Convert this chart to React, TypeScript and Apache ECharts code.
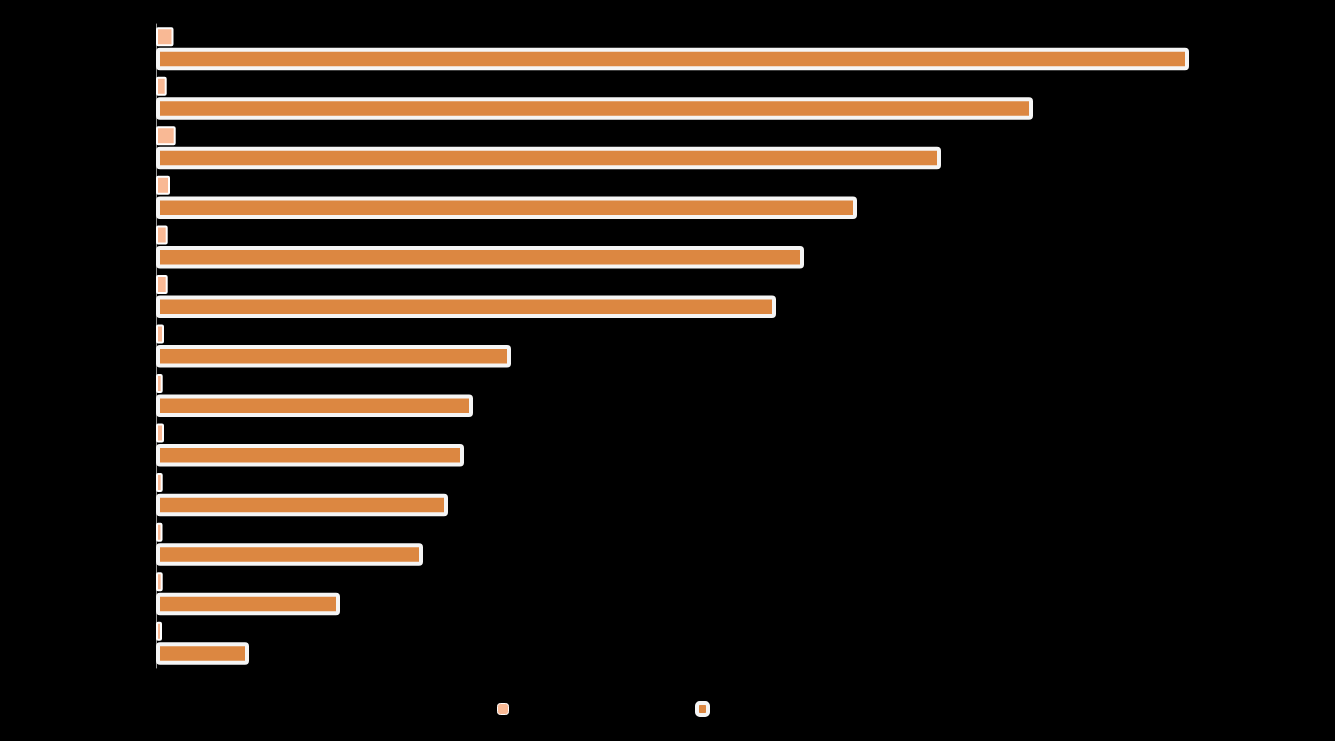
import React, { useEffect, useRef } from "react";
import * as echarts from "echarts";

const categories = [
  "Category 1", "Category 2", "Category 3", "Category 4", "Category 5",
  "Category 6", "Category 7", "Category 8", "Category 9", "Category 10",
  "Category 11", "Category 12", "Category 13",
];
const seriesNames = ["Series A", "Series B"];
const seriesAValues = [17.5, 10.7, 19.7, 14, 11.7, 11.7, 8, 6.7, 8, 6.7, 6.5, 6.7, 6];
const seriesBValues = [1033, 877, 785, 701, 648, 620, 355, 317, 308, 292, 267, 184, 93];
const xMax = 1100;

export default function App() {
  const ref = useRef<HTMLDivElement>(null);
  useEffect(() => {
    document.body.style.margin = "0";
    document.body.style.background = "#000";
    const chart = echarts.init(ref.current!, null, { renderer: "svg" });
    chart.setOption({
      animation: false,
      backgroundColor: "#000000",
      grid: { left: 156, right: 1335 - 156 - xMax, top: 24, bottom: 73, containLabel: false },
      legend: [
        {
          data: [seriesNames[0]],
          left: 497,
          top: 703,
          padding: 0,
          itemWidth: 11,
          itemHeight: 11,
          itemStyle: { borderWidth: 1, borderColor: "#ffffff" },
          textStyle: { color: "#000000", lineHeight: 11 },
        },
        {
          data: [seriesNames[1]],
          left: 695,
          top: 701,
          padding: 0,
          itemWidth: 11,
          itemHeight: 12,
          itemStyle: { borderWidth: 4, borderColor: "#f5f5f5" },
          textStyle: { color: "#000000", lineHeight: 12 },
        },
      ],
      xAxis: {
        type: "value",
        min: 0,
        max: xMax,
        splitLine: { show: false },
        axisLine: { show: false },
        axisTick: { show: false },
        axisLabel: { color: "#000000" },
      },
      yAxis: {
        type: "category",
        inverse: true,
        data: categories,
        axisLine: { show: true, lineStyle: { color: "#999999", width: 1 } },
        axisTick: { show: false },
        axisLabel: { color: "#000000" },
      },
      series: [
        {
          name: seriesNames[0],
          type: "bar",
          data: seriesAValues,
          barWidth: 19,
          barGap: "8%",
          itemStyle: {
            color: "#f9b995",
            borderColor: "#ffffff",
            borderWidth: 2,
            borderRadius: 1,
          },
        },
        {
          name: seriesNames[1],
          type: "bar",
          data: seriesBValues,
          barWidth: 22.5,
          barGap: "8%",
          itemStyle: {
            color: "#dc8741",
            borderColor: "#f5f5f5",
            borderWidth: 4,
            borderRadius: 2,
          },
        },
      ],
    });
    return () => chart.dispose();
  }, []);
  return <div ref={ref} style={{ width: 1335, height: 741 }} />;
}
